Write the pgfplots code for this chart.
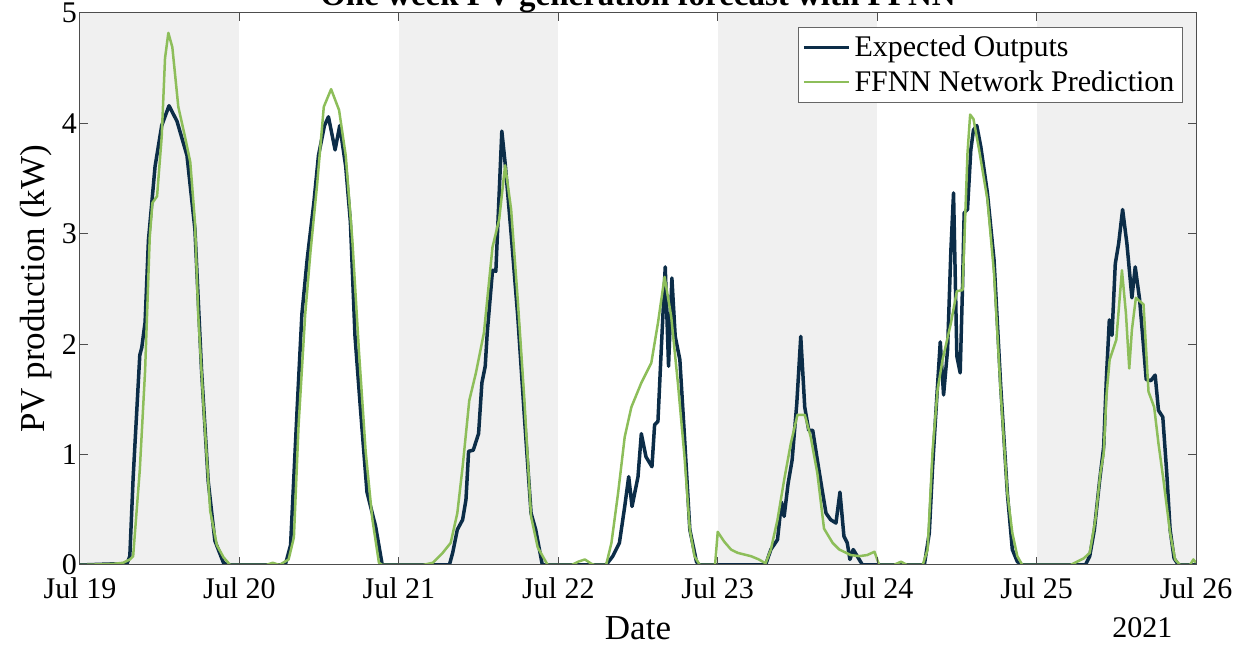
\documentclass[border=0pt]{standalone}
\usepackage{fontspec}
\setmainfont{Liberation Serif}
\usepackage{pgfplots}
\pgfplotsset{compat=1.18}
\usetikzlibrary{calc}
\definecolor{bggray}{HTML}{F0F0F0}
\definecolor{navy}{HTML}{0C2D48}
\definecolor{lgreen}{HTML}{8DBE5A}
\definecolor{axgray}{HTML}{4D4D4D}
\begin{document}
\begin{tikzpicture}
\begin{axis}[
  name=ax,
  scale only axis,
  width=558pt, height=276pt,
  xmin=0, xmax=168, ymin=0, ymax=5,
  axis on top,
  axis line style={axgray, line width=0.5pt},
  tick style={axgray, line width=0.5pt},
  tick align=inside,
  major tick length=4pt,
  xtick={0,24,48,72,96,120,144,168},
  xticklabels={Jul 19,Jul 20,Jul 21,Jul 22,Jul 23,Jul 24,Jul 25,Jul 26},
  ytick={0,1,2,3,4,5},
  /pgf/number format/assume math mode=true,
  ticklabel style={font=\fontsize{15}{18}\selectfont, text=black},
  xticklabel style={yshift=-3pt},
  yticklabel style={xshift=2pt},
  xlabel={Date},
  ylabel={PV production (kW)},
  xlabel style={font=\fontsize{17.5}{20}\selectfont, at={(axis description cs:0.5,-0.114)}, anchor=center},
  ylabel style={font=\fontsize{17.5}{20}\selectfont, at={(axis description cs:-0.0394,0.5)}, anchor=center},
  legend style={at={(1,1)}, anchor=north east, xshift=-6.5pt, yshift=-7pt,
    draw=black!60, line width=0.5pt, fill=white,
    font=\fontsize{15}{17}\selectfont, inner sep=2pt,
    row sep=1.5pt, cells={anchor=west}},
  legend image code/.code={\draw[#1] (0pt,0pt) -- (22.5pt,0pt);},
]
% background day shading
\addplot[fill=bggray, draw=none, forget plot] coordinates {(0,5) (24,5)} \closedcycle;
\addplot[fill=bggray, draw=none, forget plot] coordinates {(48,5) (72,5)} \closedcycle;
\addplot[fill=bggray, draw=none, forget plot] coordinates {(96,5) (120,5)} \closedcycle;
\addplot[fill=bggray, draw=none, forget plot] coordinates {(144,5) (168,5)} \closedcycle;

% Expected outputs
\addplot[navy, line width=1.75pt, line join=round] coordinates {
(0,0) (5,0.01) (7,0) (7.5,0.08) (8,0.79) (9,1.9) (9.3,1.97) (9.8,2.2) (10.3,2.94) (11.3,3.61) (12.3,3.98) (13.4,4.16) (14.6,4.02) (16.1,3.71) (17.3,3.04) (18.3,1.76) (19.3,0.76) (20.3,0.22) (21.6,0.02) (22.3,0)
(30.9,0) (31.7,0.18) (32.7,1.43) (33.4,2.27) (34.2,2.77) (35.2,3.28) (35.9,3.71) (36.8,3.98) (37.4,4.06) (38.4,3.76) (39.1,3.98) (40.0,3.61) (40.7,3.11) (41.4,2.07) (42.2,1.43) (43.2,0.66) (44.5,0.35) (45.5,0)
(55.6,0) (56.1,0.11) (56.8,0.32) (57.6,0.41) (58.1,0.59) (58.5,1.03) (59.2,1.04) (60.0,1.19) (60.5,1.65) (61.0,1.80) (61.3,2.10) (62.1,2.67) (62.6,2.66) (63.5,3.93) (64.0,3.64) (64.9,3.00) (65.9,2.25) (66.9,1.34) (67.9,0.47) (68.6,0.32) (69.6,0)
(79.2,0) (80.2,0.08) (81.2,0.20) (82.0,0.53) (82.6,0.80) (83.1,0.53) (84.0,0.80) (84.5,1.19) (85.2,0.98) (86.1,0.89) (86.5,1.27) (87.0,1.30) (87.5,1.95) (88.1,2.70) (88.6,1.80) (89.1,2.60) (89.6,2.07) (90.3,1.86) (91.0,1.16) (91.8,0.32) (92.8,0.03) (93.2,0)
(103.2,0) (104.0,0.14) (105.0,0.23) (105.6,0.57) (106.0,0.44) (106.6,0.74) (107.2,0.95) (107.9,1.46) (108.5,2.07) (109.1,1.43) (109.7,1.22) (110.3,1.22) (111.0,0.95) (111.8,0.65) (112.3,0.47) (113.0,0.41) (113.8,0.38) (114.4,0.66) (115.0,0.26) (115.5,0.20) (115.9,0.05) (116.4,0.14) (117.0,0.08) (117.8,0)
(127.1,0) (127.85,0.29) (128.35,0.89) (128.95,1.49) (129.5,2.02) (130.0,1.54) (130.6,1.95) (131.1,2.85) (131.5,3.37) (132.0,1.89) (132.5,1.74) (132.85,2.52) (133.1,3.19) (133.6,3.22) (134.1,3.76) (134.5,3.94) (135.0,3.98) (135.6,3.79) (136.6,3.37) (137.6,2.76) (138.6,1.62) (139.6,0.65) (140.35,0.14) (141.1,0.03) (141.85,0)
(151.35,0) (152.0,0.08) (152.7,0.32) (153.5,0.77) (154.1,1.07) (154.5,1.68) (154.95,2.22) (155.35,2.08) (155.85,2.73) (156.35,2.91) (156.95,3.22) (157.6,2.91) (158.35,2.42) (158.85,2.70) (159.5,2.41) (160.1,1.98) (160.5,1.68) (161.2,1.67) (161.85,1.72) (162.35,1.40) (163.0,1.34) (163.6,0.83) (164.1,0.32) (164.7,0.06) (165.35,0) (168,0)
};
\addlegendentry{Expected Outputs}

% FFNN prediction
\addplot[lgreen, line width=1.25pt, line join=round] coordinates {
(0,0) (5,0.01) (6.5,0.02) (7.5,0.05) (8.0,0.08) (9.0,0.86) (9.8,1.76) (10.5,2.97) (10.9,3.28) (11.6,3.34) (12.3,3.88) (12.8,4.59) (13.3,4.82) (13.9,4.69) (14.8,4.15) (15.8,3.88) (16.6,3.65) (17.3,3.11) (17.8,2.27) (18.6,1.43) (19.6,0.49) (20.6,0.18) (21.6,0.07) (22.6,0)
(28,0) (29,0.02) (30,0) (31.4,0.05) (32.2,0.25) (32.9,1.26) (33.9,2.27) (34.7,2.84) (35.7,3.45) (36.7,4.15) (37.8,4.31) (39.0,4.12) (40.0,3.71) (41.0,2.94) (42.0,1.93) (43.0,1.03) (44.0,0.42) (45.0,0.02) (45.5,0)
(51.6,0) (53.1,0.02) (54.6,0.11) (55.8,0.20) (56.8,0.47) (57.6,0.89) (58.6,1.49) (59.6,1.74) (60.8,2.10) (62.1,2.88) (63.1,3.13) (64.0,3.62) (64.9,3.22) (65.9,2.40) (66.9,1.49) (67.9,0.44) (68.9,0.16) (70.4,0)
(74,0) (75,0.03) (76,0.05) (77,0.01) (77.5,0) (79.2,0) (80.0,0.20) (81.0,0.65) (82.0,1.16) (83.0,1.43) (84.5,1.65) (86.0,1.83) (87.0,2.19) (88.0,2.61) (89.0,2.25) (90.0,1.65) (91.0,0.98) (91.8,0.32) (92.5,0.08) (93.3,0) (95.6,0)
(96,0.30) (97,0.21) (98,0.14) (99,0.11) (101,0.08) (102.2,0.05) (103.2,0.015) (104,0.14) (105,0.41) (106,0.77) (107,1.10) (108,1.36) (109.1,1.36) (110,1.16) (111,0.83) (112,0.33) (113.3,0.20) (114.3,0.14) (115,0.12) (116,0.09) (117.3,0.08) (118.5,0.09) (119.6,0.12) (120.3,0)
(122.5,0) (123.6,0.03) (124.5,0) (126.85,0) (127.6,0.14) (128.35,1.04) (129.1,1.59) (129.85,1.86) (131.1,2.19) (132.0,2.48) (132.85,2.49) (133.35,3.31) (133.6,3.73) (134.0,4.08) (134.5,4.04) (135.35,3.76) (136.6,3.31) (137.6,2.64) (138.6,1.56) (139.6,0.65) (140.35,0.29) (141.1,0.08) (141.85,0)
(149.1,0) (150.1,0.03) (151.1,0.06) (152.0,0.11) (152.85,0.41) (153.6,0.83) (154.1,1.01) (154.5,1.52) (155.0,1.86) (156.0,2.04) (156.85,2.67) (157.45,2.28) (157.95,1.78) (158.35,2.13) (158.95,2.42) (160.1,2.36) (160.85,1.57) (161.7,1.43) (162.35,1.10) (163.1,0.77) (164.1,0.29) (164.85,0.05) (165.6,0) (167.1,0) (167.6,0.05) (168,0.02)
};
\addlegendentry{FFNN Network Prediction}
\end{axis}
\node[anchor=center, font=\fontsize{15}{18}\selectfont] at ($(ax.south west)!0.952!(ax.south east)+(0,-31.5pt)$) {2021};
\node[anchor=base, font=\fontsize{16.5}{19}\selectfont\bfseries] at ($(ax.north)+(0,3.5pt)$) {One week PV generation forecast with FFNN};
\pgfresetboundingbox
\useasboundingbox ($(ax.south west)+(-40pt,-40pt)$) rectangle ($(ax.north east)+(22.5pt,6.5pt)$);
\end{tikzpicture}
\end{document}
